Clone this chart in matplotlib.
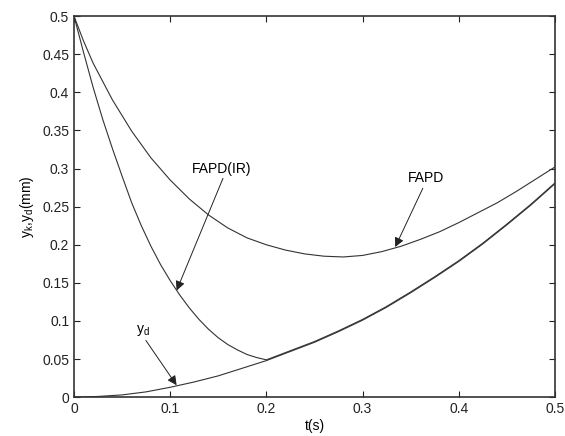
import numpy as np
from matplotlib import pyplot as plt

# desired output y_d
t_d = [0, 0.025, 0.05, 0.075, 0.1, 0.125, 0.15, 0.175, 0.2, 0.225, 0.25,
       0.275, 0.3, 0.325, 0.35, 0.375, 0.4, 0.425, 0.45, 0.475, 0.5]
y_d = [0, 0.001, 0.003, 0.007, 0.013, 0.020, 0.028, 0.038, 0.048, 0.060, 0.072,
       0.086, 0.101, 0.118, 0.137, 0.157, 0.178, 0.201, 0.226, 0.252, 0.280]

# FAPD with initial rectifying (IR)
t_ir = [0, 0.01, 0.02, 0.03, 0.04, 0.05, 0.06, 0.07, 0.08, 0.09, 0.1,
        0.11, 0.12, 0.13, 0.14, 0.15, 0.16, 0.17, 0.18, 0.19, 0.2,
        0.225, 0.25, 0.275, 0.3, 0.325, 0.35, 0.375, 0.4, 0.425, 0.45, 0.475, 0.5]
y_ir = [0.500, 0.452, 0.406, 0.364, 0.326, 0.290, 0.255, 0.225, 0.198, 0.174, 0.153,
        0.134, 0.117, 0.102, 0.089, 0.078, 0.069, 0.062, 0.056, 0.052, 0.049,
        0.061, 0.073, 0.087, 0.102, 0.119, 0.138, 0.158, 0.179, 0.202, 0.227, 0.253, 0.281]

# FAPD
t_f = [0, 0.01, 0.02, 0.04, 0.06, 0.08, 0.1, 0.12, 0.14, 0.16, 0.18, 0.2,
       0.22, 0.24, 0.26, 0.28, 0.3, 0.32, 0.34, 0.36, 0.38, 0.4,
       0.42, 0.44, 0.46, 0.48, 0.5]
y_f = [0.500, 0.467, 0.438, 0.390, 0.349, 0.314, 0.285, 0.260, 0.239, 0.222, 0.209, 0.200,
       0.193, 0.188, 0.185, 0.184, 0.186, 0.191, 0.198, 0.207, 0.217, 0.229,
       0.242, 0.255, 0.270, 0.286, 0.302]

plt.rcParams['font.family'] = ['Liberation Sans', 'DejaVu Sans']
plt.rcParams['mathtext.fontset'] = 'custom'
plt.rcParams['mathtext.rm'] = 'Liberation Sans'
plt.rcParams['mathtext.it'] = 'Liberation Sans'

fig = plt.figure(figsize=(5.65, 4.36), dpi=100)
ax = fig.add_axes([0.131, 0.089, 0.851, 0.874])

line_kw = dict(color='#333333', linewidth=0.8)
ax.plot(t_d, y_d, **line_kw)
ax.plot(t_ir, y_ir, **line_kw)
ax.plot(t_f, y_f, **line_kw)

ax.set_xlim(0, 0.5)
ax.set_ylim(0, 0.5)
ax.set_xticks(np.arange(0, 0.51, 0.1))
ax.set_xticklabels(['0', '0.1', '0.2', '0.3', '0.4', '0.5'])
ax.set_yticks(np.arange(0, 0.51, 0.05))
ax.set_yticklabels(['0', '0.05', '0.1', '0.15', '0.2', '0.25',
                    '0.3', '0.35', '0.4', '0.45', '0.5'])
ax.tick_params(direction='in', top=True, right=True, length=4,
               width=0.8, labelsize=10, colors='#222222')
for s in ax.spines.values():
    s.set_linewidth(1.2)
    s.set_color('#333333')

ax.set_xlabel('t(s)', fontsize=10, labelpad=2)
ax.set_ylabel('y$_k$,y$_d$(mm)', fontsize=10, labelpad=4)

arrow_kw = dict(arrowstyle='-|>', color='#222222', lw=0.7,
                mutation_scale=14, shrinkA=0, shrinkB=0)
ax.annotate('FAPD(IR)', xy=(0.1067, 0.140), xytext=(0.153, 0.300),
            ha='center', va='center', fontsize=10,
            arrowprops=dict(**arrow_kw, relpos=(0.55, 0.0)))
ax.annotate('FAPD', xy=(0.334, 0.197), xytext=(0.366, 0.287),
            ha='center', va='center', fontsize=10,
            arrowprops=dict(**arrow_kw, relpos=(0.45, 0.0)))
ax.annotate('y$_d$', xy=(0.1067, 0.0157), xytext=(0.072, 0.088),
            ha='center', va='center', fontsize=10,
            arrowprops=dict(**arrow_kw, relpos=(0.55, 0.0)))

plt.savefig('out.png', dpi=100)
